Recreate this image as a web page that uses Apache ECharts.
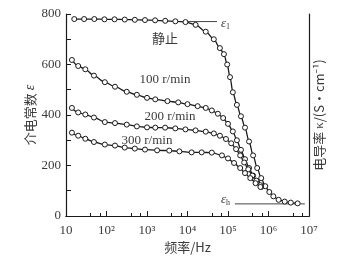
<!DOCTYPE html>
<html>
<head>
<meta charset="utf-8">
<script src="https://cdn.jsdelivr.net/npm/echarts@6/dist/echarts.min.js"></script>
<style>
html,body{margin:0;padding:0;background:#fff;}
#c{width:346px;height:259px;}
</style>
</head>
<body>
<div id="c"></div>
<script>
// Frequencies in Hz and dielectric constant values
var staticFreq = [16, 28, 50, 89, 158, 282, 501, 891, 1585, 2818, 5012, 8913, 15850, 28180, 44670, 63100, 79430, 95500, 112200, 131800, 166000, 208900, 263000, 331100, 416900, 524800, 660700, 831800, 1047000, 1318000, 1778000, 2512000, 3548000, 5248000];
var staticVal  = [780, 780, 780, 779, 779, 778, 777, 776, 775, 773, 771, 768, 757, 730, 700, 665, 641, 600, 550, 490, 440, 395, 350, 295, 240, 190, 150, 118, 95, 78, 64, 57, 53, 50];

var r100Freq = [14, 20, 30, 49, 91, 162, 316, 562, 1000, 1600, 3200, 5900, 10000, 17800, 28200, 39800, 56200, 75900, 100000, 131800, 166000, 209000, 263000, 331000, 417000, 525000, 661000];
var r100Val  = [618, 594, 581, 556, 530, 512, 492, 480, 468, 462, 455, 450, 443, 435, 428, 418, 405, 388, 365, 335, 300, 262, 225, 190, 160, 135, 115];

var r200Freq = [14, 20, 30, 49, 91, 162, 316, 562, 1000, 1600, 2800, 5000, 8900, 15800, 28200, 44700, 63100, 89100, 120000, 158000, 200000, 251000, 316000, 398000, 501000, 631000];
var r200Val  = [428, 410, 402, 390, 372, 368, 362, 355, 351, 350, 350, 347, 343, 339, 334, 327, 318, 305, 288, 265, 240, 212, 185, 160, 140, 122];

var r300Freq = [14, 20, 30, 49, 91, 162, 282, 501, 891, 1778, 3548, 6310, 12600, 22400, 39800, 70800, 100000, 141000, 200000, 263000, 355000, 479000, 631000];
var r300Val  = [330, 318, 306, 293, 283, 279, 271, 267, 263, 260, 259, 256, 252, 252, 251, 240, 228, 210, 190, 170, 150, 130, 115];

var eps1Freq = [9800, 53700];
var eps1Val  = [770, 770];
var epsHFreq = [148000, 7900000];
var epsHVal  = [48, 48];

var yTicks = [0, 200, 400, 600, 800];
var xTickLabels = {1:'10', 2:'10²', 3:'10³', 4:'10⁴', 5:'10⁵', 6:'10⁶', 7:'10⁷'};

function pairs(f, v){ var out=[]; for(var i=0;i<f.length;i++) out.push([f[i], v[i]]); return out; }

var chart = echarts.init(document.getElementById('c'), null, {renderer:'canvas'});
var ink = '#1a1a1a';
var txt = '#3a3a3a';
var serif = '"Liberation Serif", "DejaVu Serif", serif';
var cjk = '"Noto Sans CJK SC", "Noto Sans", sans-serif';

function curve(name, f, v){
  return {
    name:name, type:'line', data:pairs(f,v),
    smooth:0.3, smoothMonotone:'x',
    symbol:'circle', symbolSize:5, showAllSymbol:true,
    lineStyle:{color:ink, width:1.3},
    itemStyle:{color:'#fff', borderColor:ink, borderWidth:1},
    emphasis:{disabled:true}, animation:false, z:3
  };
}
function flat(f, v){
  return {type:'line', data:pairs(f,v), symbol:'none', lineStyle:{color:'#444', width:1}, animation:false, z:2, silent:true};
}

chart.setOption({
  animation:false,
  backgroundColor:'#fff',
  grid:{left:66, right:37, top:14, bottom:43},
  xAxis:[{
    type:'log', logBase:10, min:10, max:10000000, interval:1, position:'bottom',
    name:'频率/Hz', nameLocation:'middle', nameGap:25, nameMoveOverlap:false,
    nameTextStyle:{fontFamily:cjk, fontSize:13, color:txt},
    axisLine:{show:true, lineStyle:{color:ink, width:1.2}},
    axisTick:{show:true, inside:true, length:5, lineStyle:{color:ink}},
    minorTick:{show:true, splitNumber:3, length:3, lineStyle:{color:ink}},
    axisLabel:{margin:8, fontFamily:serif, fontSize:13, color:txt,
      formatter:function(v){ var e=Math.round(Math.log10(v)); return xTickLabels[e]||''; }},
    splitLine:{show:false}, minorSplitLine:{show:false}
  },{
    type:'log', logBase:10, min:10, max:10000000, position:'top',
    axisLine:{show:true, lineStyle:{color:ink, width:1.2}},
    axisTick:{show:false}, axisLabel:{show:false}, splitLine:{show:false}
  }],
  yAxis:[{
    type:'value', min:0, max:800, interval:200, position:'left',
    name:'介电常数 {i|ε}', nameLocation:'middle', nameGap:29, nameRotate:90, nameMoveOverlap:false,
    nameTextStyle:{fontFamily:cjk, fontSize:13, color:txt, rich:{i:{fontFamily:serif, fontStyle:'italic', fontSize:14, color:txt}}},
    axisLine:{show:true, lineStyle:{color:ink, width:1.2}},
    axisTick:{show:true, inside:true, length:5, lineStyle:{color:ink}},
    minorTick:{show:true, splitNumber:2, length:5, lineStyle:{color:ink}},
    axisLabel:{margin:5, fontFamily:serif, fontSize:13, color:txt},
    splitLine:{show:false}
  },{
    type:'value', min:0, max:800, position:'right',
    name:'电导率 {i|κ}/(S·cm⁻¹)', nameLocation:'middle', nameGap:4, nameRotate:90, nameMoveOverlap:false,
    nameTextStyle:{fontFamily:cjk, fontSize:13, color:txt, rich:{i:{fontFamily:serif, fontSize:13, color:txt}}},
    axisLine:{show:true, lineStyle:{color:ink, width:1.2}},
    axisTick:{show:false}, axisLabel:{show:false}, splitLine:{show:false}
  }],
  series:[
    flat(eps1Freq, eps1Val),
    flat(epsHFreq, epsHVal),
    curve('静止', staticFreq, staticVal),
    curve('100 r/min', r100Freq, r100Val),
    curve('200 r/min', r200Freq, r200Val),
    curve('300 r/min', r300Freq, r300Val)
  ],
  graphic:[
    {type:'text', x:165, y:38, style:{text:'静止', font:'13px '+cjk, fill:txt, align:'center', verticalAlign:'middle'}},
    {type:'text', x:165, y:80, style:{text:'100 r/min', font:'13px '+serif, fill:txt, align:'center', verticalAlign:'middle'}},
    {type:'text', x:170, y:117, style:{text:'200 r/min', font:'13px '+serif, fill:txt, align:'center', verticalAlign:'middle'}},
    {type:'text', x:147, y:141, style:{text:'300 r/min', font:'13px '+serif, fill:txt, align:'center', verticalAlign:'middle'}},
    {type:'text', x:221, y:24, style:{text:'{e|ε}{s|1}', fill:txt, verticalAlign:'middle',
      rich:{e:{fontFamily:serif, fontStyle:'italic', fontSize:13, fill:txt}, s:{fontFamily:serif, fontSize:8, fill:txt, padding:[6,0,0,0]}}}},
    {type:'text', x:221, y:200, style:{text:'{e|ε}{s|h}', fill:txt, verticalAlign:'middle',
      rich:{e:{fontFamily:serif, fontStyle:'italic', fontSize:13, fill:txt}, s:{fontFamily:serif, fontSize:8, fill:txt, padding:[6,0,0,0]}}}}
  ]
});
</script>
</body>
</html>
